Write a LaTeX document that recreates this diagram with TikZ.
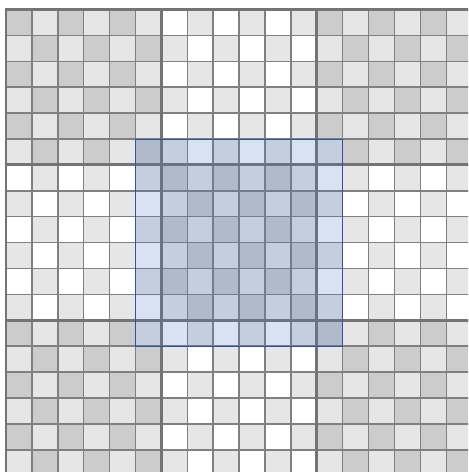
\documentclass[tikz,border=0pt]{standalone}
\usepackage{tikz}
\definecolor{CellDark}{HTML}{CCCCCC}
\definecolor{CellLight}{HTML}{E6E6E6}
\definecolor{GridLine}{HTML}{808080}
\definecolor{BlockLine}{HTML}{747474}
\definecolor{Focus}{HTML}{4472C4}
\definecolor{FocusEdge}{HTML}{2F5597}
\tikzset{
  cellDark/.style={fill=CellDark},
  cellLight/.style={fill=CellLight},
  cellWhite/.style={fill=white},
  gridThin/.style={draw=GridLine,line width=1.6pt},
  gridThick/.style={draw=BlockLine,line width=3.2pt,line cap=rect},
  focusBox/.style={draw=FocusEdge,line width=1.1pt,fill=Focus,fill opacity=0.2}
}

\begin{document}
\begin{tikzpicture}[x=1cm,y=-1cm]
\clip (-0.232,-0.367) rectangle (17.838,17.857);
\fill[white] (-0.232,-0.367) rectangle (17.838,17.857);
% cells: corner and centre blocks dark/light, edge blocks white/light
\foreach \r in {0,...,17}{
  \foreach \c in {0,...,17}{
    \pgfmathtruncatemacro{\cellOdd}{mod(\r+\c,2)}
    \pgfmathtruncatemacro{\blockOdd}{mod(int(\r/6)+int(\c/6),2)}
    \ifnum\cellOdd=1 \def\tone{cellLight}\else\ifnum\blockOdd=0 \def\tone{cellDark}\else\def\tone{cellWhite}\fi\fi
    \path[\tone] (\c,\r) rectangle ++(1,1);
  }
}
\draw[gridThin] (0,0) grid (18,18);
\foreach \k in {0,6,12,18}{
  \draw[gridThick] (\k,0) -- (\k,18);
  \draw[gridThick] (0,\k) -- (18,\k);
}
% highlighted window
\draw[focusBox] (5,5) rectangle (13,13);
\end{tikzpicture}
\end{document}
